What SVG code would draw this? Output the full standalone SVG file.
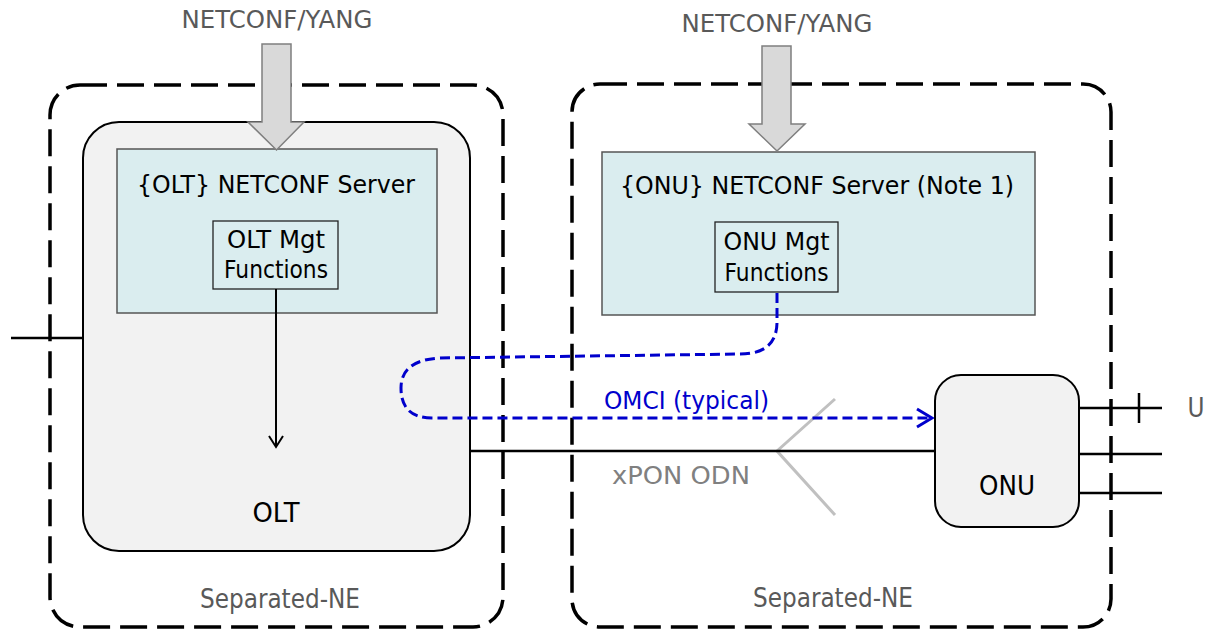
<svg xmlns="http://www.w3.org/2000/svg" width="1217" height="633" viewBox="0 0 1217 633">
<style>
text{font-family:"DejaVu Sans","Liberation Sans",sans-serif;font-size:25px;text-anchor:middle}
.sm{font-size:24px}
.lg{font-size:26px}
.ne{fill:none;stroke:#000;stroke-width:3.5;stroke-dasharray:27 10}
.dev{fill:#f2f2f2;stroke:#000;stroke-width:2}
.srv{fill:#daedef;stroke:#555;stroke-width:1.5}
.fn{fill:#daedef;stroke:#222;stroke-width:1.3}
.blk{fill:#d9d9d9;stroke:#7f7f7f;stroke-width:1.5}
.g{fill:#595959}
.k{fill:#000}
.ln{stroke:#000;stroke-width:2.5;fill:none}
</style>
<defs>
<marker id="ablk" markerWidth="14" markerHeight="16" refX="12" refY="8" orient="auto" markerUnits="userSpaceOnUse">
<path d="M1,1 L12,8 L1,15" fill="none" stroke="#000" stroke-width="2"/>
</marker>
<marker id="ablu" markerWidth="18" markerHeight="22" refX="16" refY="11" orient="auto" markerUnits="userSpaceOnUse">
<path d="M1,2 L16,11 L1,20" fill="none" stroke="#0000cc" stroke-width="3"/>
</marker>
</defs>

<g id="ne-left">
<rect class="ne" x="50" y="85" width="453" height="542" rx="30"/>
<text class="g lg" x="280" y="608" textLength="160" lengthAdjust="spacingAndGlyphs">Separated-NE</text>
</g>
<g id="ne-right">
<rect class="ne" x="572" y="84" width="539" height="543" rx="28"/>
<text class="g lg" x="833" y="607" textLength="160" lengthAdjust="spacingAndGlyphs">Separated-NE</text>
</g>

<g id="olt">
<rect class="dev" x="83" y="122" width="387" height="429" rx="36"/>
<text class="k lg" x="276" y="522" textLength="47" lengthAdjust="spacingAndGlyphs">OLT</text>
</g>
<g id="olt-server">
<rect class="srv" x="117" y="149" width="320" height="164"/>
<text class="k" x="276" y="193" textLength="278" lengthAdjust="spacingAndGlyphs">{OLT} NETCONF Server</text>
</g>
<g id="olt-mgt">
<rect class="fn" x="213" y="221" width="125" height="68"/>
<text class="k sm" x="276" y="248" textLength="98" lengthAdjust="spacingAndGlyphs">OLT Mgt</text>
<text class="k sm" x="276" y="278" textLength="104" lengthAdjust="spacingAndGlyphs">Functions</text>
</g>

<g id="onu-server">
<rect class="srv" x="602" y="152" width="433" height="163"/>
<text class="k" x="817" y="194" textLength="394" lengthAdjust="spacingAndGlyphs">{ONU} NETCONF Server (Note 1)</text>
</g>
<g id="onu-mgt">
<rect class="fn" x="715" y="222" width="123" height="70"/>
<text class="k sm" x="776.5" y="250" textLength="106" lengthAdjust="spacingAndGlyphs">ONU Mgt</text>
<text class="k sm" x="776.5" y="281" textLength="104" lengthAdjust="spacingAndGlyphs">Functions</text>
</g>
<g id="onu">
<rect class="dev" x="935" y="375" width="144" height="152" rx="26"/>
<text class="k lg" x="1007" y="495" textLength="56" lengthAdjust="spacingAndGlyphs">ONU</text>
</g>

<g id="splitter">
<path d="M835,399 L777,451 L835,515" fill="none" stroke="#c0c0c0" stroke-width="3"/>
</g>

<g id="connectors">
<path class="blk" d="M262,44 H291 V122 H304 L276.5,150 L248,122 H262 Z"/>
<text class="g sm" x="277" y="28" textLength="191" lengthAdjust="spacingAndGlyphs">NETCONF/YANG</text>
<path class="blk" d="M762,46 H791 V124 H805 L777,151 L749,124 H762 Z"/>
<text class="g sm" x="777" y="32" textLength="191" lengthAdjust="spacingAndGlyphs">NETCONF/YANG</text>
<line class="ln" x1="11" y1="338" x2="83" y2="338"/>
<line x1="276" y1="289" x2="276" y2="447" stroke="#000" stroke-width="2" marker-end="url(#ablk)"/>
<line class="ln" x1="470" y1="451" x2="935" y2="451"/>
<path d="M777,293 L777,322 Q777,354 740,354 L440,358 Q401,360 401,388 Q401,418 432,418 L932,418" fill="none" stroke="#0000cc" stroke-width="3" stroke-dasharray="10 5" marker-end="url(#ablu)"/>
<text x="686.5" y="409" fill="#0000cc" textLength="165" lengthAdjust="spacingAndGlyphs">OMCI (typical)</text>
<text x="681" y="484" fill="#808080" textLength="138" lengthAdjust="spacingAndGlyphs">xPON ODN</text>
<line class="ln" x1="1079" y1="408" x2="1162" y2="408"/>
<line class="ln" x1="1139" y1="393" x2="1139" y2="423"/>
<line class="ln" x1="1079" y1="454" x2="1162" y2="454"/>
<line class="ln" x1="1079" y1="493" x2="1162" y2="493"/>
<text class="g lg" x="1196" y="417" textLength="17" lengthAdjust="spacingAndGlyphs">U</text>
</g>
</svg>
